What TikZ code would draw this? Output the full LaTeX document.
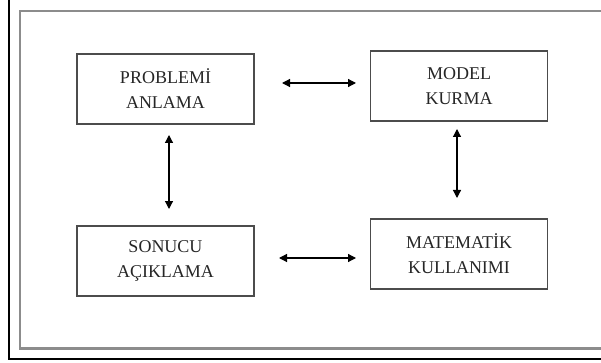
\documentclass[tikz,border=0pt]{standalone}
\usepackage{fontspec}
\setmainfont{Liberation Serif}
\usetikzlibrary{arrows.meta}
\begin{document}
\begin{tikzpicture}[x=1pt,y=-1pt,
  stepbox/.style={draw=black!70,line width=1.8pt,minimum width=177pt,minimum height=70pt,
    inner sep=0pt,align=center,font=\fontsize{18}{25}\selectfont,text=black!85},
  biarrow/.style={{Triangle[length=8pt,width=8pt]}-{Triangle[length=8pt,width=8pt]},line width=1.2pt,black}]
\useasboundingbox (0,0) rectangle (601,363);
\draw[black,line width=1.5pt] (9,0) -- (9,359) -- (601,359);
\draw[black!45,line width=2.5pt] (601,11) -- (20,11) -- (20,348.5) -- (601,348.5);
\node[stepbox] (pa) at (165.5,89) {PROBLEMİ\\ANLAMA};
\node[stepbox] (mk) at (459,86) {MODEL\\KURMA};
\node[stepbox] (sa) at (165.5,261) {SONUCU\\AÇIKLAMA};
\node[stepbox] (mat) at (459,254) {MATEMATİK\\KULLANIMI};
\coordinate (a1) at (282,83);
\coordinate (a2) at (356,83);
\coordinate (b1) at (279,258);
\coordinate (b2) at (356,258);
\coordinate (c1) at (169,135);
\coordinate (c2) at (169,209);
\coordinate (d1) at (457,129);
\coordinate (d2) at (457,198);
\draw[biarrow] (a1) -- (a2);
\draw[biarrow] (b1) -- (b2);
\draw[biarrow] (c1) -- (c2);
\draw[biarrow] (d1) -- (d2);
\end{tikzpicture}
\end{document}
